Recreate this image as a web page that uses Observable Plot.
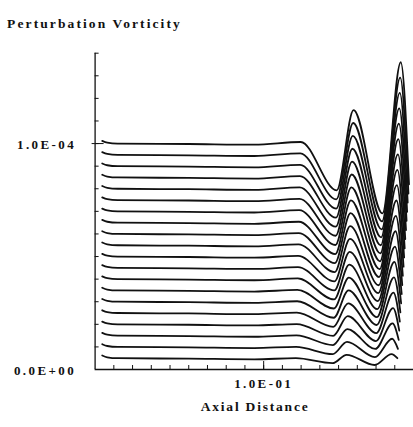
<!DOCTYPE html>
<html><head><meta charset="utf-8">
<script src="https://cdn.jsdelivr.net/npm/d3@7"></script>
<script src="https://cdn.jsdelivr.net/npm/@observablehq/plot@0.6"></script>
<style>body{margin:0;background:#fff;} svg{display:block;}</style>
</head><body><div id="chart"></div>
<script>
// values in units of 1e-6 (perturbation vorticity); x = axial distance
const UNIT = 1e-6;
const curveIds = [1,2,3,4,5,6,7,8,9,10,11,12,13,14,15,16,17,18,19,20];
const baseline = [5,10,15,20,25,30,35,40,45,50,55,60,65,70,75,80,85,90,95,100];
const leadX = [0.0138, 0.0165, 0.022, 0.06, 0.095];
const leadOffset = [1.2, 0.4, 0, -0.2, -0.5];
const bumpX = [.1172,.1173,.1175,.1176,.1177,.1179,.1180,.1182,.1183,.1184,.1186,.1187,.1188,.1190,.1191,.1192,.1194,.1195,.1196,.1198];
const bumpV = [5.0,10.0,15.1,20.1,25.2,30.2,35.2,40.3,45.3,50.3,55.4,60.4,65.4,70.5,75.5,80.6,85.6,90.6,95.7,100.7];
const trough1X = [.1368,.1369,.1370,.1371,.1372,.1374,.1375,.1376,.1377,.1378,.1379,.1380,.1382,.1383,.1384,.1385,.1386,.1387,.1388,.1390];
const trough1V = [2.8,6.8,10.8,14.9,18.9,22.9,27.0,31.0,35.0,39.0,43.1,47.1,51.1,55.1,59.2,63.2,67.2,71.2,75.3,79.3];
const peak1X = [.1443,.1445,.1447,.1449,.1451,.1453,.1455,.1457,.1459,.1461,.1462,.1464,.1466,.1468,.1470,.1472,.1474,.1476,.1478,.1480];
const peak1V = [6.5,12.2,17.9,23.6,29.3,35.0,40.7,46.4,52.1,57.8,63.5,69.2,74.9,80.6,86.3,92.0,97.7,103.4,109.1,114.8];
const trough2X = [.1592,.1594,.1596,.1599,.1601,.1603,.1605,.1607,.1610,.1612,.1614,.1616,.1619,.1621,.1623,.1625,.1627,.1630,.1632,.1634];
const trough2V = [2.0,5.5,9.1,12.6,16.1,19.7,23.2,26.7,30.3,33.8,37.3,40.9,44.4,47.9,51.4,55.0,58.5,62.0,65.6,69.1];
const peak2X = [.1683,.1686,.1688,.1691,.1693,.1696,.1698,.1701,.1704,.1706,.1709,.1711,.1714,.1717,.1719,.1722,.1724,.1727,.1729,.1732];
const peak2V = [6.8,13.6,20.4,27.2,34.0,40.8,47.6,54.4,61.2,68.0,74.8,81.6,88.4,95.2,102.0,108.8,115.6,122.4,129.2,136.0];
const endX = [.1714,.1717,.1721,.1724,.1727,.1730,.1734,.1737,.1740,.1743,.1747,.1750,.1753,.1756,.1760,.1763,.1766,.1769,.1773,.1776];
const endV = [5.0,9.1,13.1,17.2,21.2,25.3,29.3,33.4,37.4,41.5,45.5,49.6,53.6,57.7,61.7,65.8,69.8,73.9,77.9,82.0];

const xTicks = [0.02,0.03,0.04,0.05,0.06,0.07,0.08,0.09,0.10,0.11,0.12,0.13,0.14,0.15,0.16,0.17];
const yTicks = [1e-5,2e-5,3e-5,4e-5,5e-5,6e-5,7e-5,8e-5,9e-5,1e-4,1.1e-4,1.2e-4,1.3e-4,1.4e-4];
const xLabelTick = [0.1], xLabelText = ["1.0E-01"];
const yLabelTicks = [0, 1e-4], yLabelText = ["0.0E+00", "1.0E-04"];
const title = "Perturbation Vorticity";
const xTitle = "Axial Distance";

const rows = [];
curveIds.forEach((id, i) => {
  leadX.forEach((x, j) => rows.push({id, x, y: (baseline[i] + leadOffset[j]) * UNIT}));
  rows.push({id, x: bumpX[i], y: bumpV[i] * UNIT});
  rows.push({id, x: trough1X[i], y: trough1V[i] * UNIT});
  rows.push({id, x: peak1X[i], y: peak1V[i] * UNIT});
  rows.push({id, x: trough2X[i], y: trough2V[i] * UNIT});
  rows.push({id, x: peak2X[i], y: peak2V[i] * UNIT});
  rows.push({id, x: endX[i], y: endV[i] * UNIT});
});

const font = "'Liberation Serif', 'DejaVu Serif', serif";
const plot = Plot.plot({
  width: 413, height: 427,
  marginLeft: 94.6, marginRight: 0, marginTop: 52.7, marginBottom: 58,
  style: {fontFamily: font, background: "#fff", color: "#111"},
  x: {type: "linear", domain: [0.01, 0.18]},
  y: {type: "linear", domain: [0, 1.4e-4]},
  marks: [
    Plot.ruleX([0.01], {y1: 0, y2: 1.4e-4, stroke: "#111", strokeWidth: 1.3}),
    Plot.ruleY([0], {x1: 0.01, x2: 0.18, stroke: "#111", strokeWidth: 1.3}),
    Plot.axisY({ticks: yTicks, tickSize: -4, tickFormat: () => "", label: null, stroke: "#111"}),
    Plot.axisY({ticks: [1e-4], tickSize: 3, tickFormat: () => "", label: null, stroke: "#111"}),
    Plot.axisY({ticks: [1e-4], tickSize: -9, tickFormat: () => "", label: null, stroke: "#111"}),
    Plot.axisX({ticks: xTicks, tickSize: -4, tickFormat: () => "", label: null, stroke: "#111"}),
    Plot.axisX({ticks: xLabelTick, tickSize: -8, tickFormat: () => "", label: null, stroke: "#111"}),
    Plot.line(rows, {x: "x", y: "y", z: "id", curve: "monotone-x", stroke: "#111", strokeWidth: 1.8}),
    Plot.text(yLabelText, {x: 0.01, y: (d, i) => yLabelTicks[i], text: d => d, dx: -19, dy: 1.5, textAnchor: "end", fontSize: 13, fontWeight: "bold", fill: "#111"}),
    Plot.text(xLabelText, {x: (d, i) => xLabelTick[i], y: 0, text: d => d, dy: 14, textAnchor: "middle", fontSize: 13, fontWeight: "bold", fill: "#111"}),
    Plot.text([title], {frameAnchor: "top-left", dx: -88, dy: -35, textAnchor: "start", fontSize: 13.5, fontWeight: "bold", fill: "#111"}),
    Plot.text([xTitle], {frameAnchor: "bottom-left", dx: 160, dy: 41, textAnchor: "middle", fontSize: 13.5, fontWeight: "bold", fill: "#111"})
  ]
});
d3.select(plot).selectAll("text").each(function() {
  const t = this.textContent;
  if (t === title) this.style.letterSpacing = "2.1px";
  else if (t === xTitle) this.style.letterSpacing = "1.8px";
  else if (t.includes("E")) this.style.letterSpacing = "2.4px";
});
document.getElementById("chart").append(plot);
</script>
</body></html>
